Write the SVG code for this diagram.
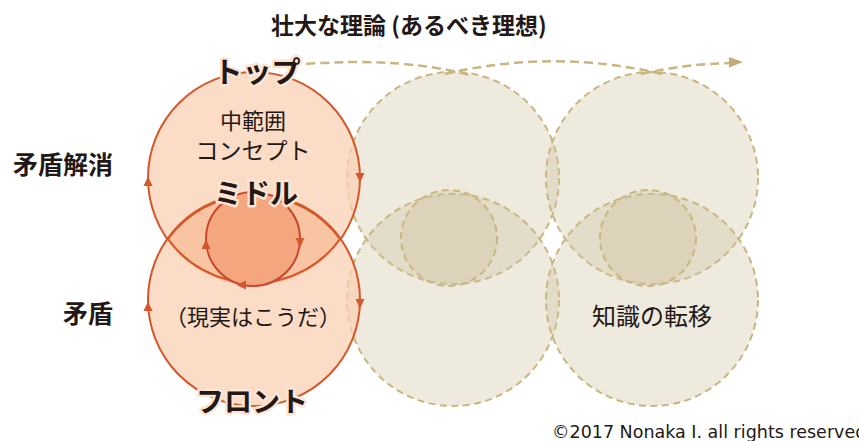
<svg xmlns="http://www.w3.org/2000/svg" xmlns:xlink="http://www.w3.org/1999/xlink" width="859" height="441" viewBox="0 0 859 441">
<style>
.bei{fill:#CFC2A0;fill-opacity:0.35;stroke:#C9B680;stroke-width:2;stroke-dasharray:7 4.5}
.orc{fill:#FAD0B3;fill-opacity:0.75;stroke:#D4572B;stroke-width:2}
.ah{fill:#D4572B}
.jp{font-family:"Noto Sans CJK JP","Noto Sans CJK SC",sans-serif;fill:#231815}
.lbl{font-weight:700;paint-order:stroke;stroke:#FDE4D3;stroke-width:5;stroke-linejoin:round}
.side{font-weight:700;font-size:25px}
.dash{fill:none;stroke:#C9B680;stroke-width:2.5;stroke-dasharray:9 5}
</style>
<defs>
<path id="ahead" d="M0,-5.5 L4.5,4 L-4.5,4 Z"/>
</defs>

<g id="beige-circles">
  <g id="b-top-1"><circle class="bei" cx="453" cy="178" r="106"/></g>
  <g id="b-bot-1"><circle class="bei" cx="453" cy="300" r="106"/></g>
  <g id="b-top-2"><circle class="bei" cx="652" cy="178" r="106"/></g>
  <g id="b-bot-2"><circle class="bei" cx="652" cy="300" r="106"/></g>
  <g id="b-mid-1"><circle class="bei" cx="449" cy="238" r="48"/></g>
  <g id="b-mid-2"><circle class="bei" cx="648" cy="238" r="48"/></g>
</g>

<g id="top-circle"><circle class="orc" cx="254" cy="178" r="106"/></g>
<g id="front-circle"><circle class="orc" cx="254" cy="300" r="106"/></g>
<g id="lens"><path d="M168,239 A106,106 0 0 1 340,239 A106,106 0 0 1 168,239 Z" fill="#F8C4A2" stroke="#D4572B" stroke-width="2"/></g>
<g id="middle-circle"><circle cx="253" cy="239" r="47" fill="#F4A67E" stroke="#C9472E" stroke-width="2"/></g>

<g id="connectors">
  <use xlink:href="#ahead" class="ah" transform="translate(148,182)"/>
  <use xlink:href="#ahead" class="ah" transform="translate(360,177) rotate(180)"/>
  <use xlink:href="#ahead" class="ah" transform="translate(148,307)"/>
  <use xlink:href="#ahead" class="ah" transform="translate(360,303) rotate(180)"/>
  <use xlink:href="#ahead" class="ah" transform="translate(206,245)"/>
  <use xlink:href="#ahead" class="ah" transform="translate(300,242) rotate(180)"/>
  <use xlink:href="#ahead" class="ah" transform="translate(242,285) rotate(-90)"/>
  <path class="dash" d="M306,64 Q400,57 470,75"/>
  <path class="dash" d="M445,74 Q556,48 666,75"/>
  <path class="dash" d="M641,74 Q685,64 731,63"/>
  <path d="M743,62 L729,57 L729,67.5 Z" fill="#C0AC74"/>
</g>

<g id="labels">
  <text class="jp" x="271" y="34" font-size="23" font-weight="700">壮大な理論 (あるべき理想)</text>
  <text class="jp side" x="113" y="174" text-anchor="end">矛盾解消</text>
  <text class="jp side" x="113" y="323" text-anchor="end">矛盾</text>
  <text class="jp lbl" x="257" y="83" font-size="29" text-anchor="middle">トップ</text>
  <text class="jp" x="253" y="129" font-size="22" text-anchor="middle">中範囲</text>
  <text class="jp" x="253" y="159" font-size="23" text-anchor="middle">コンセプト</text>
  <text class="jp lbl" x="256" y="204" font-size="28" text-anchor="middle">ミドル</text>
  <text class="jp" x="253" y="325" font-size="22" text-anchor="middle">（現実はこうだ）</text>
  <text class="jp lbl" x="252" y="412" font-size="28" text-anchor="middle">フロント</text>
  <text class="jp" x="652" y="325" font-size="24" text-anchor="middle">知識の転移</text>
  <text x="552" y="438" font-family="DejaVu Sans, sans-serif" font-size="17.5" fill="#231815">©2017 Nonaka I. all rights reserved</text>
</g>
</svg>
